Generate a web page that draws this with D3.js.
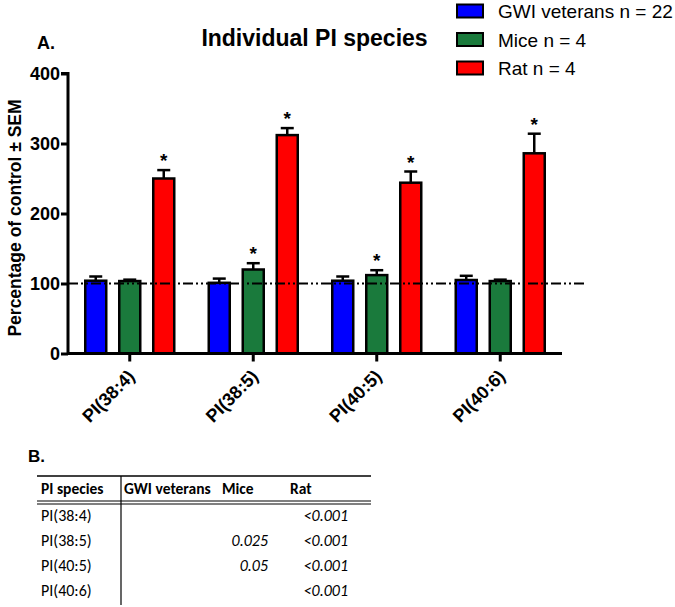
<!DOCTYPE html>
<html><head><meta charset="utf-8">
<script src="https://cdnjs.cloudflare.com/ajax/libs/d3/7.8.5/d3.min.js"></script>
<style>body{margin:0;background:#fff}svg{display:block}</style>
</head><body>
<svg id="c" width="675" height="607"></svg>
<script>
const categories = ["PI(38:4)", "PI(38:5)", "PI(40:5)", "PI(40:6)"];
const seriesNames = ["GWI veterans n = 22", "Mice n = 4", "Rat n = 4"];
const seriesColors = ["#0000ff", "#1a7a3c", "#ff0000"];
const gwiMean = [104, 101, 104, 105];
const gwiSem = [6, 6, 6, 6];
const miceMean = [103.5, 120, 112, 103.5];
const miceSem = [2, 9, 7, 2];
const ratMean = [250, 312, 244, 286];
const ratSem = [12, 10, 16, 28];
const miceSig = [false, true, true, false];
const ratSig = [true, true, true, true];
const yTicks = [0, 100, 200, 300, 400];
const tableHeader = ["PI species", "GWI veterans", "Mice", "Rat"];
const tableGwi = ["", "", "", ""];
const tableMice = ["", "0.025", "0.05", ""];
const tableRat = ["<0.001", "<0.001", "<0.001", "<0.001"];

const series = [
  {mean: gwiMean, sem: gwiSem, sig: [false,false,false,false]},
  {mean: miceMean, sem: miceSem, sig: miceSig},
  {mean: ratMean, sem: ratSem, sig: ratSig}
];

const svg = d3.select("#c");
const FONT = "Liberation Sans, Arial, sans-serif";
const x0 = d3.scaleBand().domain(categories).range([68, 562]).paddingInner(0).paddingOuter(0);
const y = d3.scaleLinear().domain([0, 400]).range([353.5, 73.5]);
const barPitch = 34, barW = 21;
const x1 = d3.scaleBand().domain([0,1,2]).range([-barPitch*1.5, barPitch*1.5]);

// bars
series.forEach((s, si) => {
  const g = svg.append("g");
  categories.forEach((c, ci) => {
    const cx = x0(c) + x0.bandwidth()/2 + x1(si) + x1.bandwidth()/2;
    const top = y(s.mean[ci]);
    const et = y(s.mean[ci] + s.sem[ci]);
    g.append("line").attr("x1", cx).attr("x2", cx).attr("y1", top).attr("y2", et)
      .attr("stroke", "#000").attr("stroke-width", 2.5);
    g.append("line").attr("x1", cx-6.5).attr("x2", cx+6.5).attr("y1", et).attr("y2", et)
      .attr("stroke", "#000").attr("stroke-width", 2.5);
    g.append("rect").attr("x", cx - barW/2).attr("y", top).attr("width", barW)
      .attr("height", y(0) - top).attr("fill", seriesColors[si])
      .attr("stroke", "#000").attr("stroke-width", 2.5);
    if (s.sig[ci]) {
      g.append("text").attr("x", cx).attr("y", et - 3).attr("text-anchor", "middle")
        .attr("font-family", FONT).attr("font-size", 19).attr("font-weight", "bold").text("*");
    }
  });
});

// reference line at 100
svg.append("line").attr("x1", 68).attr("x2", 585).attr("y1", y(100)).attr("y2", y(100))
  .attr("stroke", "#000").attr("stroke-width", 2)
  .attr("stroke-dasharray", "10,3,2,3,2,3");

// y axis
const yAxis = d3.axisLeft(y).tickValues(yTicks).tickSize(7).tickPadding(1);
const ya = svg.append("g").attr("transform", "translate(68,0)").call(yAxis);
ya.select(".domain").attr("stroke-width", 3).attr("d", `M-7,${y(400)}H0V${y(0)}`);
ya.selectAll(".tick line").attr("stroke-width", 3);
ya.selectAll(".tick text").attr("font-family", FONT).attr("font-size", 18)
  .attr("font-weight", "bold").attr("fill", "#000");

// x axis
const xAxis = d3.axisBottom(x0).tickSize(8).tickSizeOuter(0);
const xa = svg.append("g").attr("transform", `translate(0,${y(0)})`).call(xAxis);
xa.select(".domain").attr("stroke-width", 3).attr("d", `M68,0H562`);
xa.selectAll(".tick line").attr("stroke-width", 3);
xa.selectAll(".tick text").attr("font-family", FONT).attr("font-size", 18)
  .attr("font-weight", "bold").attr("fill", "#000")
  .attr("text-anchor", "end").attr("dy", 0).attr("y", 0)
  .attr("transform", "translate(6,24) rotate(-45)");

// y label
svg.append("text").attr("transform", "translate(21,218) rotate(-90)")
  .attr("text-anchor", "middle").attr("font-family", FONT).attr("font-size", 17.5)
  .attr("font-weight", "bold")
  .text("Percentage of control ± SEM");

// title & A.
svg.append("text").attr("x", 314.5).attr("y", 46).attr("text-anchor", "middle")
  .attr("font-family", FONT).attr("font-size", 23).attr("font-weight", "bold")
  .text("Individual PI species");
svg.append("text").attr("x", 37).attr("y", 49)
  .attr("font-family", FONT).attr("font-size", 18).attr("font-weight", "bold").text("A.");

// legend
const leg = svg.append("g");
seriesNames.forEach((n, i) => {
  const cy = 11 + i * 28.5;
  leg.append("rect").attr("x", 457).attr("y", cy - 6.5).attr("width", 26).attr("height", 13)
    .attr("fill", seriesColors[i]).attr("stroke", "#000").attr("stroke-width", 2);
  leg.append("text").attr("x", 498).attr("y", cy + 7).attr("font-family", FONT)
    .attr("font-size", 19).text(n);
});

// table B
const TF = "Carlito, Lato, 'Open Sans', sans-serif";
svg.append("text").attr("x", 28).attr("y", 462).attr("font-family", FONT)
  .attr("font-size", 17).attr("font-weight", "bold").text("B.");
const tb = svg.append("g");
tb.append("line").attr("x1", 37).attr("x2", 371).attr("y1", 476).attr("y2", 476).attr("stroke", "#000").attr("stroke-width", 1.5);
tb.append("line").attr("x1", 37).attr("x2", 371).attr("y1", 501).attr("y2", 501).attr("stroke", "#000").attr("stroke-width", 1.2);
tb.append("line").attr("x1", 37).attr("x2", 371).attr("y1", 504).attr("y2", 504).attr("stroke", "#000").attr("stroke-width", 1.2);
tb.append("line").attr("x1", 121).attr("x2", 121).attr("y1", 476).attr("y2", 605).attr("stroke", "#000").attr("stroke-width", 1.2);
const hx = [41, 124, 222, 290];
tableHeader.forEach((h, i) => {
  tb.append("text").attr("x", hx[i]).attr("y", 494).attr("font-family", TF)
    .attr("font-size", 15.5).attr("font-weight", "bold").text(h);
});
categories.forEach((c, i) => {
  const by = 521 + i * 25;
  tb.append("text").attr("x", 41).attr("y", by).attr("font-family", TF).attr("font-size", 16).text(c);
  if (tableGwi[i]) tb.append("text").attr("x", 200).attr("y", by).attr("text-anchor", "end")
    .attr("font-family", TF).attr("font-size", 16).attr("font-style", "italic").text(tableGwi[i]);
  if (tableMice[i]) tb.append("text").attr("x", 268).attr("y", by).attr("text-anchor", "end")
    .attr("font-family", TF).attr("font-size", 16).attr("font-style", "italic").text(tableMice[i]);
  if (tableRat[i]) tb.append("text").attr("x", 348).attr("y", by).attr("text-anchor", "end")
    .attr("font-family", TF).attr("font-size", 16).attr("font-style", "italic").text(tableRat[i]);
});
</script>
</body></html>
